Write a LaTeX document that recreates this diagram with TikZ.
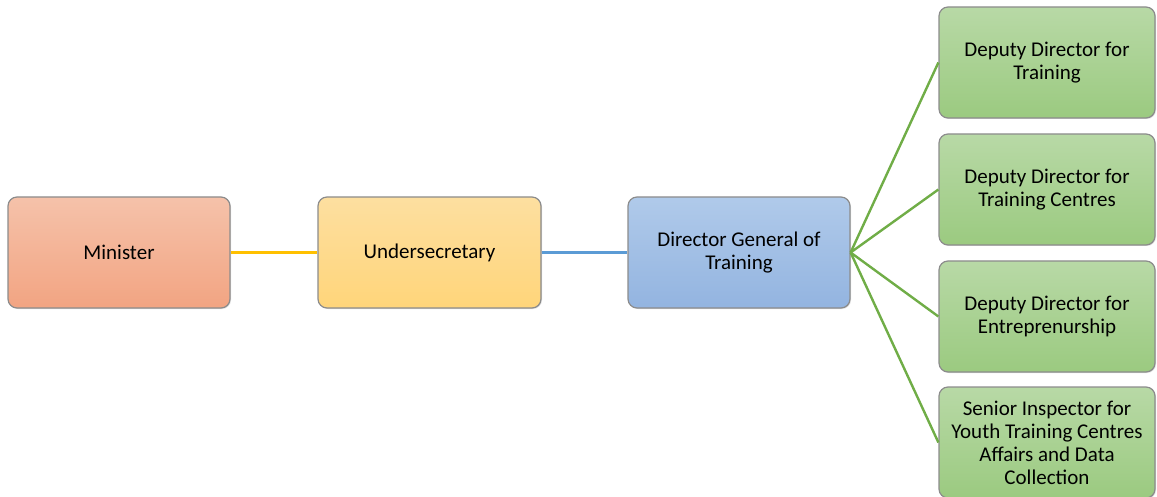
\documentclass[tikz,border=0pt]{standalone}
\usepackage{fontspec}
\setmainfont{Carlito}
\usetikzlibrary{shadows}
\definecolor{bordc}{HTML}{8C8C8C}
\definecolor{minT}{HTML}{F5C2AA}
\definecolor{minB}{HTML}{F2A482}
\definecolor{undT}{HTML}{FDDFA0}
\definecolor{undB}{HTML}{FFD57A}
\definecolor{dgT}{HTML}{B0CAEA}
\definecolor{dgB}{HTML}{93B4E0}
\definecolor{grT}{HTML}{B8D9A6}
\definecolor{grB}{HTML}{9BCA80}
\definecolor{lnY}{HTML}{FFC000}
\definecolor{lnB}{HTML}{5B9BD5}
\definecolor{lnG}{HTML}{70AD47}
\tikzset{
  box/.style={draw=bordc, line width=1.2pt, rounded corners=9pt, minimum height=111pt,
    align=center, font=\fontsize{21}{23}\selectfont, inner sep=2pt,
    drop shadow={shadow xshift=1pt, shadow yshift=-1pt, opacity=0.25}},
  minbox/.style={box, top color=minT, bottom color=minB, minimum width=222pt},
  undbox/.style={box, top color=undT, bottom color=undB, minimum width=223pt},
  dgbox/.style={box, top color=dgT, bottom color=dgB, minimum width=222pt},
  grbox/.style={box, top color=grT, bottom color=grB, minimum width=216pt},
  conn/.style={line width=2.4pt}
}
\begin{document}
\begin{tikzpicture}[x=1pt,y=-1pt]
\useasboundingbox (0,0) rectangle (1157,497);
\node[minbox] (min) at (119,252.5) {Minister};
\node[undbox] (und) at (429.5,252.5) {Undersecretary};
\node[dgbox] (dg) at (739,252.5) {Director General of\\Training};
\node[grbox] (g1) at (1047,62.5) {Deputy Director for\\Training};
\node[grbox] (g2) at (1047,189.5) {Deputy Director for\\Training Centres};
\node[grbox] (g3) at (1047,316.5) {Deputy Director for\\Entreprenurship};
\node[grbox] (g4) at (1047,442.5) {Senior Inspector for\\Youth Training Centres\\Affairs and Data\\Collection};
\draw[conn, lnY] (min.east) -- (und.west);
\draw[conn, lnB] (und.east) -- (dg.west);
\foreach \g in {g1,g2,g3,g4}
  \draw[conn, lnG] (dg.east) -- (\g.west);
\end{tikzpicture}
\end{document}
